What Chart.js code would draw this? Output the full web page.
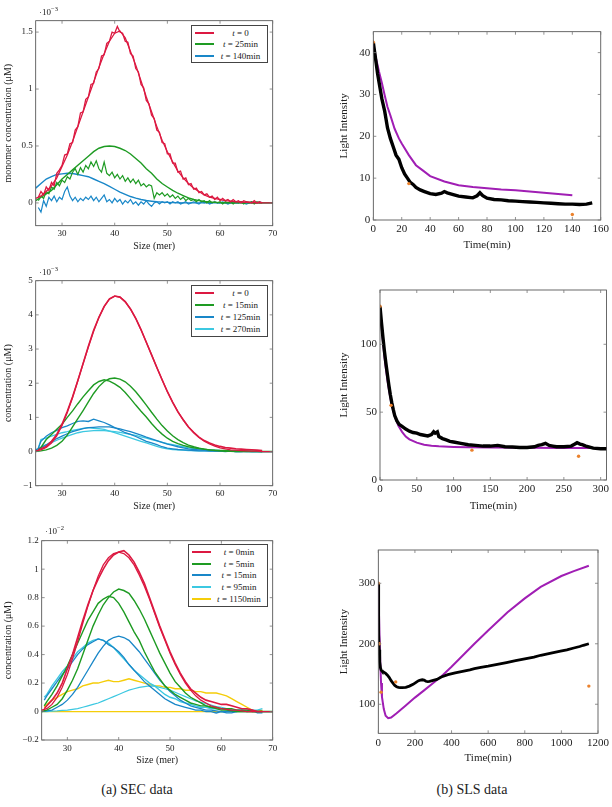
<!DOCTYPE html>
<html>
<head>
<meta charset="utf-8">
<script src="https://cdn.jsdelivr.net/npm/chart.js@4.4.1/dist/chart.umd.min.js"></script>
<style>
  body { margin: 0; background: #fff; font-family: "Liberation Serif", serif; color: #222; }
  #page { position: relative; width: 612px; height: 807px; overflow: hidden; }
  #page canvas { position: absolute; z-index: 1; }
  .exp { position: absolute; font-size: 9px; z-index: 3; }
  .exp sup { font-size: 6.5px; }
  .lg { position: absolute; z-index: 3; background: #fff; border: 1px solid #444; font-size: 9px;
        box-sizing: border-box; display: flex; flex-direction: column; justify-content: space-evenly; }
  .lg div { display: flex; align-items: center; }
  .lg .sw { width: 19px; height: 2px; margin-left: 3px; }
  .lg .tx { flex: 1; text-align: center; white-space: nowrap; }
  .cap { position: absolute; font-size: 14px; width: 200px; text-align: center; }
</style>
</head>
<body>
<div id="page">
  <div class="exp" style="left:39px;top:5px">&middot;10<sup>&minus;3</sup></div>
  <div class="exp" style="left:39px;top:265px">&middot;10<sup>&minus;3</sup></div>
  <div class="exp" style="left:45px;top:524px">&middot;10<sup>&minus;2</sup></div>

  <div class="lg" style="left:191px;top:25px;width:77px;height:38px">
    <div><span class="sw" style="background:rgb(220,25,65)"></span><span class="tx"><i>t</i> = 0</span></div>
    <div><span class="sw" style="background:rgb(30,155,35)"></span><span class="tx"><i>t</i> = 25min</span></div>
    <div><span class="sw" style="background:rgb(25,135,200)"></span><span class="tx"><i>t</i> = 140min</span></div>
  </div>
  <div class="lg" style="left:191px;top:285px;width:77px;height:52px">
    <div><span class="sw" style="background:rgb(220,25,65)"></span><span class="tx"><i>t</i> = 0</span></div>
    <div><span class="sw" style="background:rgb(30,155,35)"></span><span class="tx"><i>t</i> = 15min</span></div>
    <div><span class="sw" style="background:rgb(25,135,200)"></span><span class="tx"><i>t</i> = 125min</span></div>
    <div><span class="sw" style="background:rgb(60,200,225)"></span><span class="tx"><i>t</i> = 270min</span></div>
  </div>
  <div class="lg" style="left:188px;top:544px;width:80px;height:63px">
    <div><span class="sw" style="background:rgb(220,25,65)"></span><span class="tx"><i>t</i> = 0min</span></div>
    <div><span class="sw" style="background:rgb(30,155,35)"></span><span class="tx"><i>t</i> = 5min</span></div>
    <div><span class="sw" style="background:rgb(25,135,200)"></span><span class="tx"><i>t</i> = 15min</span></div>
    <div><span class="sw" style="background:rgb(60,200,225)"></span><span class="tx"><i>t</i> = 95min</span></div>
    <div><span class="sw" style="background:rgb(245,205,10)"></span><span class="tx"><i>t</i> = 1150min</span></div>
  </div>

  <div class="cap" style="left:37px;top:782px">(a) SEC data</div>
  <div class="cap" style="left:372px;top:782px">(b) SLS data</div>
</div>

<script>
// colours
const RED = 'rgb(220,25,65)';
const GREEN = 'rgb(30,155,35)';
const BLUE = 'rgb(25,135,200)';
const CYAN = 'rgb(60,200,225)';
const YELLOW = 'rgb(245,205,10)';
const PURPLE = 'rgb(160,30,180)';
const ORANGE = 'rgb(235,130,45)';
const serif = '"Liberation Serif"';

// ---- SEC data (size in mer) ----
const fitX = [25,26,27,28,29,30,31,32,33,34,35,36,37,38,39,40,41,42,43,44,45,46,47,
  48,49,50,51,52,53,54,55,56,57,58,59,60,61,62,63,64,65,66,67,68,69,70];
const secX = [25.5,26,27,28,29,30,31,32,33,34,35,36,37,38,39,40,41,42,43,44,45,46,47,
  48,49,50,51,52,53,54,55,56,57,58,59,60,61,62,63,64,65,66,67,68];
const sec1X = [25.5,26,26.5,27,27.5,28,28.5,29,29.5,30,
  30.5,31,31.5,32,32.5,33,33.5,34,34.5,35,
  35.5,36,36.5,37,37.5,38,38.5,39,39.5,40,
  40.5,41,41.5,42,42.5,43,43.5,44,44.5,45,
  45.5,46,46.5,47,47.5,48,48.5,49,49.5,50,
  50.5,51,51.5,52,52.5,53,53.5,54,54.5,55,
  55.5,56,56.5,57,57.5,58,58.5,59,59.5,60,
  60.5,61,61.5,62,62.5,63,63.5,64,64.5,65,
  65.5,66,66.5,67,67.5,68];

// top: units of 1e-3
const red1Data = [0.05,0.10,0.07,0.14,0.11,0.18,0.15,0.26,0.29,0.33,
  0.42,0.43,0.52,0.53,0.64,0.67,0.79,0.80,0.91,0.93,
  1.04,1.05,1.15,1.18,1.29,1.30,1.40,1.42,1.50,1.49,
  1.55,1.50,1.49,1.42,1.41,1.31,1.29,1.18,1.15,1.04,
  1.01,0.90,0.87,0.77,0.74,0.64,0.62,0.53,0.52,0.43,
  0.43,0.35,0.35,0.27,0.28,0.21,0.22,0.16,0.17,0.12,
  0.13,0.09,0.10,0.07,0.08,0.05,0.06,0.03,0.05,0.02,
  0.04,0.02,0.03,0.01,0.03,0.01,0.02,0.00,0.02,0.01,
  0.01,0.00,0.02,0.00,0.01,0.00];
const green1Data = [0.02,0.06,0.04,0.10,0.08,0.14,0.12,0.18,0.15,0.20,
  0.18,0.23,0.21,0.27,0.30,0.25,0.31,0.27,0.33,0.30,
  0.36,0.32,0.37,0.30,0.27,0.36,0.26,0.24,0.27,0.22,
  0.25,0.21,0.24,0.19,0.22,0.18,0.21,0.17,0.20,0.15,
  0.17,0.14,0.16,0.15,0.04,0.09,0.07,0.09,0.06,0.08,
  0.05,0.07,0.04,0.06,0.03,0.05,0.02,0.04,0.02,0.03,
  0.01,0.03,0.01,0.02,0.00,0.02,0.00,0.01,0.00,0.01,
  -0.01,0.01,0.00,0.01,-0.01,0.01,0.00,0.01,-0.01,0.01,
  0.00,0.01,-0.01,0.01,0.00,0.00];
const blue1Data = [-0.04,-0.08,0.02,-0.03,0.05,0.02,0.06,0.01,0.05,0.03,
  0.10,0.14,0.06,0.02,0.05,0.01,0.04,0.02,0.05,0.03,
  0.06,0.02,0.05,0.01,0.04,0.07,0.01,0.03,0.00,0.04,
  0.01,0.03,-0.01,0.02,0.00,0.03,-0.01,0.01,-0.02,0.01,
  -0.01,0.02,-0.01,-0.03,0.00,0.01,-0.01,0.01,0.00,0.01,
  -0.01,0.01,0.00,0.01,-0.01,0.00,0.01,-0.01,0.00,0.01,
  0.00,-0.01,0.01,0.00,0.01,-0.01,0.00,0.01,0.00,0.00,
  0.01,0.00,-0.01,0.00,0.01,0.00,0.00,0.01,0.00,-0.01,
  0.00,0.01,0.00,0.00,0.01,0.00];
const red1Fit = [0.04,0.06,0.1,0.15,0.22,0.32,0.42,0.54,0.67,0.8,
  0.93,1.06,1.19,1.31,1.42,1.49,1.51,1.45,1.33,1.21,
  1.07,0.93,0.8,0.67,0.55,0.45,0.36,0.28,0.22,0.17,
  0.13,0.1,0.07,0.05,0.04,0.03,0.02,0.015,0.01,0.008,
  0.005,0.003,0,0,0,0];
const green1Fit = [0.02,0.05,0.08,0.11,0.16,0.21,0.25,0.29,0.33,0.37,
  0.41,0.45,0.48,0.495,0.5,0.495,0.48,0.46,0.43,0.39,
  0.35,0.3,0.26,0.21,0.17,0.14,0.11,0.085,0.065,0.045,
  0.03,0.02,0.013,0.008,0.005,0.003,0,0,0,0,
  0,0,0,0,0,0];
const blue1Fit = [0.13,0.17,0.21,0.23,0.25,0.255,0.26,0.258,0.25,0.24,
  0.23,0.21,0.19,0.17,0.145,0.12,0.095,0.075,0.056,0.042,
  0.03,0.021,0.015,0.01,0.007,0.005,0.003,0.002,0,0,
  0,0,0,0,0,0,0,0,0,0,
  0,0,0,0,0,0];

// middle: units of 1e-3
const red3Data = [0.05,0.08,0.15,0.3,0.5,0.8,1.18,1.6,2.08,2.58,3.08,3.55,3.93,4.25,4.47,
  4.55,4.52,4.38,4.17,3.9,3.57,3.2,2.83,2.46,2.1,1.75,1.44,1.16,0.93,0.72,
  0.56,0.42,0.32,0.25,0.19,0.15,0.12,0.1,0.08,0.07,0.06,0.05,0.04,0.03];
const green3Data = [0.05,0.12,0.35,0.5,0.65,0.8,1.0,1.19,1.4,1.6,1.78,1.95,2.05,2.1,2.06,
  1.98,1.88,1.73,1.55,1.36,1.18,1.01,0.82,0.65,0.51,0.39,0.3,0.23,0.18,0.14,
  0.11,0.09,0.07,0.05,0.04,0.03,0.03,0.02,0.02,0.02,0.01,0.01,0.01,0];
const blue3Data = [0.1,0.3,0.45,0.55,0.62,0.7,0.75,0.82,0.88,0.9,0.88,0.95,0.9,0.85,0.78,
  0.7,0.63,0.55,0.5,0.44,0.37,0.3,0.25,0.2,0.14,0.1,0.08,0.06,0.05,0.04,
  0.03,0.02,0.02,0.01,0.01,0.01,0,0.01,0,0,0.01,0,0,0];
const cyan3Data = [0.1,0.35,0.4,0.45,0.5,0.55,0.58,0.62,0.65,0.68,0.7,0.68,0.67,0.65,0.6,
  0.55,0.5,0.45,0.4,0.35,0.3,0.25,0.2,0.15,0.11,0.08,0.06,0.05,0.04,0.03,
  0.03,0.02,0.02,0.02,0.02,0.02,0.01,0.01,0.01,0.01,0,0,0,0];
const red3Fit = [0.02,0.05,0.12,0.25,0.46,0.76,1.14,1.58,2.07,2.57,
  3.06,3.52,3.92,4.24,4.46,4.55,4.52,4.39,4.17,3.89,
  3.56,3.2,2.83,2.46,2.1,1.76,1.45,1.17,0.93,0.72,
  0.55,0.41,0.3,0.22,0.16,0.11,0.08,0.05,0.04,0.03,
  0.02,0.01,0.01,0,0,0];
const green3Fit = [0,0.02,0.05,0.1,0.18,0.3,0.48,0.72,0.96,1.2,
  1.45,1.7,1.9,2.05,2.13,2.15,2.12,2.04,1.91,1.75,
  1.56,1.36,1.15,0.95,0.76,0.6,0.46,0.35,0.26,0.19,
  0.14,0.1,0.07,0.05,0.03,0.02,0.01,0.01,0,0,
  0,0,0,0,0,0];
const blue3Fit = [0.05,0.12,0.2,0.29,0.38,0.45,0.52,0.58,0.63,0.67,
  0.7,0.71,0.72,0.72,0.72,0.69,0.66,0.62,0.58,0.53,
  0.48,0.42,0.37,0.32,0.27,0.22,0.18,0.14,0.11,0.08,
  0.06,0.05,0.04,0.03,0.02,0.015,0.01,0.01,0,0,
  0,0,0,0,0,0];
const cyan3Fit = [0.05,0.11,0.18,0.26,0.33,0.39,0.45,0.5,0.55,0.58,
  0.6,0.61,0.62,0.61,0.6,0.58,0.56,0.53,0.5,0.47,
  0.43,0.39,0.35,0.31,0.27,0.23,0.2,0.17,0.14,0.11,
  0.09,0.07,0.06,0.05,0.04,0.03,0.025,0.02,0.015,0.01,
  0.01,0.005,0.005,0,0,0];

// bottom: units of 1e-2
const red5Data = [0.02,0.04,0.08,0.13,0.2,0.3,0.4,0.52,0.64,0.75,0.85,0.93,1.0,1.06,1.1,
  1.12,1.13,1.1,1.05,0.98,0.9,0.8,0.7,0.6,0.51,0.42,0.34,0.27,0.21,0.16,
  0.13,0.1,0.08,0.07,0.06,0.05,0.05,0.04,0.03,0.02,0.02,0.01,0,0];
const green5Data = [0.04,0.07,0.12,0.18,0.25,0.32,0.4,0.48,0.56,0.64,0.7,0.76,0.79,0.81,0.8,
  0.76,0.7,0.63,0.56,0.5,0.42,0.35,0.28,0.23,0.18,0.15,0.12,0.1,0.08,0.06,
  0.05,0.04,0.04,0.03,0.03,0.02,0.02,0.02,0.01,0.01,0.01,0,0,0];
const blue5Data = [0.08,0.11,0.16,0.21,0.26,0.3,0.35,0.4,0.44,0.47,0.49,0.51,0.5,0.47,0.45,
  0.42,0.38,0.33,0.29,0.25,0.21,0.18,0.15,0.12,0.09,0.07,0.05,0.04,0.03,0.02,
  0.01,0.01,0,0,-0.01,0,-0.01,-0.01,0,0.01,0,0.01,-0.01,-0.01];
const cyan5Data = [0.1,0.12,0.18,0.23,0.28,0.32,0.37,0.42,0.45,0.48,0.5,0.51,0.5,0.48,0.45,
  0.41,0.37,0.33,0.29,0.26,0.23,0.2,0.18,0.15,0.12,0.1,0.09,0.07,0.06,0.05,
  0.04,0.03,0.03,0.02,0.02,0.02,0.01,0.01,0.01,0.01,0.01,0.01,0.01,0.02];
const yellow5Data = [0.03,0.05,0.08,0.1,0.12,0.14,0.15,0.16,0.18,0.19,0.2,0.2,0.21,0.22,0.21,
  0.21,0.22,0.23,0.22,0.21,0.2,0.19,0.18,0.18,0.17,0.17,0.16,0.16,0.15,0.15,
  0.14,0.14,0.13,0.13,0.13,0.12,0.11,0.09,0.07,0.05,0.03,0.01,0,0.01];
const red5Fit = [0.01,0.02,0.05,0.1,0.17,0.26,0.37,0.49,0.62,0.74,
  0.85,0.95,1.03,1.08,1.11,1.12,1.11,1.08,1.03,0.96,
  0.88,0.79,0.69,0.59,0.5,0.41,0.33,0.26,0.2,0.15,
  0.11,0.08,0.06,0.04,0.03,0.02,0.015,0.01,0.01,0.005,
  0,0,0,0,0,0];
const green5Fit = [0,0.01,0.03,0.05,0.09,0.15,0.22,0.3,0.4,0.5,
  0.6,0.68,0.75,0.8,0.84,0.86,0.85,0.83,0.78,0.72,
  0.65,0.57,0.49,0.41,0.34,0.27,0.21,0.17,0.13,0.1,
  0.08,0.06,0.04,0.03,0.02,0.01,0.01,0.005,0,0,
  0,0,0,0,0,0];
const blue5Fit = [0,0.005,0.01,0.03,0.05,0.08,0.12,0.17,0.23,0.29,
  0.35,0.41,0.46,0.5,0.52,0.53,0.52,0.5,0.46,0.42,
  0.37,0.32,0.27,0.22,0.18,0.14,0.11,0.08,0.06,0.04,
  0.03,0.02,0.01,0.01,0.005,0,0,0,0,0,
  0,0,0,0,0,0];
const cyan5Fit = [0,0,0.003,0.005,0.008,0.01,0.015,0.02,0.03,0.04,
  0.05,0.06,0.075,0.09,0.105,0.12,0.135,0.15,0.16,0.17,
  0.175,0.18,0.178,0.17,0.16,0.15,0.135,0.12,0.105,0.09,
  0.075,0.065,0.055,0.045,0.035,0.03,0.02,0.015,0.01,0.01,
  0.005,0.005,0,0,0,0];
const yellow5FitX = [25, 70];
const yellow5Fit = [0, 0];

// ---- SLS data (time in min) ----
const sls1T = [0,1,2,3,4,5,6,7,8,9,10,12,14,16,18,20,22,24,26,28,30,33,36,40,44,48,
  50,52,55,60,65,70,73,75,77,80,85,90,95,100,105,110,115,120,125,130,135,140,145,150,154];
const sls1I = [42.5,40,37.5,35,33,31,29,27.5,26,24,22,19.5,17.5,15.5,14.5,12.5,11,10,9,8.5,7.8,
  7.2,6.8,6.3,6.1,6.4,6.8,6.5,6.2,5.7,5.5,5.3,5.8,6.5,5.8,5.2,
  4.9,4.8,4.6,4.5,4.4,4.3,4.2,4.1,4.0,3.9,3.8,3.8,3.7,3.8,4.1];
const sls1FitT = [0,2,4,6,8,10,12,15,18,20,25,30,35,40,50,60,70,80,90,100,110,120,130,140];
const sls1FitI = [42,38.5,35.5,32.8,29.8,27,25,21.8,19.5,18.3,15.5,13.1,11.8,10.5,9.2,8.3,7.9,7.6,7.3,7.1,6.8,6.5,6.2,5.9];
const sls1MarkT = [0, 25, 140];
const sls1MarkI = [42.5, 8.7, 1.3];

const sls2T = [0,2,4,6,8,10,12,14,16,18,20,23,26,30,35,40,45,50,55,60,65,70,73,75,78,80,
  85,90,95,100,110,120,130,140,150,160,170,180,190,200,210,215,220,225,230,235,240,
  250,260,265,268,272,275,280,290,300,310];
const sls2I = [128,116,105,95,86,78,70,63,57,52,47.5,43.5,41,39.5,37.5,36,35,34.5,33.5,33,32.5,33.5,
  35.5,34.5,35.5,32,30.5,29.5,28.5,28,27,26,25.5,25,25,25.5,24.5,24.3,24,24,24.5,
  25.5,26,27,25.5,25,24.5,24.5,25,26.5,27.5,26.5,26,25,23.5,23,23];
const sls2FitT = [0,2,4,6,8,10,12,15,18,20,25,30,35,40,50,60,70,80,100,120,150,200,250,310];
const sls2FitI = [128,114,102,91,82,74,67,58,51,47,40,35.5,32,30,27.5,26,25.2,24.8,24.4,24.2,24,23.8,23.6,23.5];
const sls2MarkT = [0, 15, 125, 270];
const sls2MarkI = [128, 55, 22, 17.5];

const sls3T = [0,1,2,3,5,8,12,15,20,30,40,50,60,70,80,90,100,110,120,130,150,170,190,
  200,210,220,230,240,250,260,270,280,300,320,344,380,420,460,500,525,560,600,650,700,
  750,800,850,887,950,995,1030,1068,1100,1120,1150];
const sls3I = [300,270,240,215,190,170,160,157,155,153,151,148,144,139,135,131,129,128,127.5,127.5,
  128,130,133,135,137,139,140,140.5,140,138,137.5,138,139.5,141,145,149,152,154.5,157,159,
  161,163,166,169,172,175,178,181,185,188,190,193,195.5,197.5,200];
const sls3FitT = [0,3,6,10,15,20,30,40,54,70,100,150,200,250,300,344,400,525,600,706,800,887,1000,1068,1150];
const sls3FitI = [300,260,220,175,135,112,92,81,77,78,85,98,111,123,135,146,162,200,222,252,275,294,312,320,329];
const sls3MarkT = [0, 5, 15, 95, 1150];
const sls3MarkI = [300, 200, 120, 137, 130];

// tick labels
const secXTicks = [30, 40, 50, 60, 70];
const sec1YTicks = [0, 0.5, 1, 1.5];
const sec3YTicks = [-1, 0, 1, 2, 3, 4, 5];
const sec5YTicks = [-0.2, 0, 0.2, 0.4, 0.6, 0.8, 1, 1.2];
const sls1XTicks = [0, 20, 40, 60, 80, 100, 120, 140, 160];
const sls1YTicks = [0, 10, 20, 30, 40];
const sls2XTicks = [0, 50, 100, 150, 200, 250, 300];
const sls2YTicks = [0, 50, 100];
const sls3XTicks = [0, 200, 400, 600, 800, 1000, 1200];
const sls3YTicks = [100, 200, 300];

function pts(xs, ys) {
  return xs.map(function (x, i) { return { x: x, y: ys[i] }; });
}
function line(xs, ys, color, width) {
  return { data: pts(xs, ys), borderColor: color, borderWidth: width, pointRadius: 0, tension: 0, fill: false };
}
function marks(xs, ys) {
  return { data: pts(xs, ys), showLine: false, pointRadius: 1.7, pointBorderWidth: 0,
    pointBackgroundColor: ORANGE, borderColor: ORANGE };
}
const fmt = v => String(v).replace('-', '\u2212');

// box around the plot with small inward ticks on every side
const frameTicks = {
  id: 'frameTicks',
  afterDraw(chart) {
    const ctx = chart.ctx, a = chart.chartArea, x = chart.scales.x, y = chart.scales.y;
    ctx.save();
    ctx.strokeStyle = '#444';
    ctx.lineWidth = 0.8;
    ctx.strokeRect(a.left, a.top, a.right - a.left, a.bottom - a.top);
    ctx.strokeStyle = '#777';
    ctx.beginPath();
    x.ticks.forEach(t => {
      const p = x.getPixelForValue(t.value);
      ctx.moveTo(p, a.bottom); ctx.lineTo(p, a.bottom - 3);
      ctx.moveTo(p, a.top); ctx.lineTo(p, a.top + 3);
    });
    y.ticks.forEach(t => {
      const p = y.getPixelForValue(t.value);
      ctx.moveTo(a.left, p); ctx.lineTo(a.left + 3, p);
      ctx.moveTo(a.right, p); ctx.lineTo(a.right - 3, p);
    });
    ctx.stroke();
    ctx.restore();
  }
};

function axis(min, max, ticks, title, size, titleSize, fit, horiz) {
  return {
    type: 'linear', min: min, max: max,
    grid: { display: false, drawTicks: false },
    border: { display: false },
    afterBuildTicks: s => { s.ticks = ticks.map(v => ({ value: v })); },
    afterFit: s => { if (horiz) s.height = fit; else s.width = fit; },
    ticks: { autoSkip: false, maxRotation: 0, padding: 3, color: '#222',
      font: { family: serif, size: size }, callback: fmt },
    title: { display: true, text: title, color: '#222', padding: 2,
      font: { family: serif, size: titleSize } }
  };
}

function makeChart(box, plot, xs, ys, datasets) {
  const cv = document.createElement('canvas');
  cv.width = box.w; cv.height = box.h;
  cv.style.left = box.l + 'px'; cv.style.top = box.t + 'px';
  document.getElementById('page').appendChild(cv);
  new Chart(cv, {
    type: 'line',
    data: { datasets: datasets },
    options: {
      responsive: false, animation: false,
      layout: { padding: { left: 0, bottom: 0, top: plot.t - box.t, right: box.l + box.w - plot.r } },
      scales: {
        x: axis(xs.min, xs.max, xs.ticks, xs.title, xs.size, xs.tsize, box.t + box.h - plot.b, true),
        y: axis(ys.min, ys.max, ys.ticks, ys.title, ys.size, ys.tsize, plot.l - box.l, false)
      },
      plugins: { legend: { display: false }, tooltip: { enabled: false } }
    },
    plugins: [frameTicks]
  });
}

const sizeAxis = { min: 25, max: 70, ticks: secXTicks, title: 'Size (mer)', size: 9, tsize: 10 };

makeChart({ l: 0, t: 0, w: 285, h: 254 }, { l: 35.7, t: 20.7, r: 272.7, b: 225.7 }, sizeAxis,
  { min: -0.2, max: 1.6, ticks: sec1YTicks, title: 'monomer concentration (\u03bcM)', size: 9, tsize: 10 },
  [line(sec1X, red1Data, RED, 1.3), line(fitX, red1Fit, RED, 1.3),
   line(fitX, green1Fit, GREEN, 1.4), line(sec1X, green1Data, GREEN, 1.2),
   line(fitX, blue1Fit, BLUE, 1.4), line(sec1X, blue1Data, BLUE, 1.2)]);

makeChart({ l: 0, t: 260, w: 285, h: 254 }, { l: 35.7, t: 280.7, r: 272.7, b: 485.7 }, sizeAxis,
  { min: -1, max: 5, ticks: sec3YTicks, title: 'concentration (\u03bcM)', size: 9, tsize: 10 },
  [line(secX, red3Data, RED, 1.6), line(fitX, red3Fit, RED, 1.3),
   line(secX, green3Data, GREEN, 1.4), line(fitX, green3Fit, GREEN, 1.4),
   line(secX, blue3Data, BLUE, 1.3), line(fitX, blue3Fit, BLUE, 1.3),
   line(secX, cyan3Data, CYAN, 1.3), line(fitX, cyan3Fit, CYAN, 1.3)]);

makeChart({ l: 0, t: 520, w: 285, h: 248 }, { l: 41.7, t: 540.7, r: 272.7, b: 740 }, sizeAxis,
  { min: -0.2, max: 1.2, ticks: sec5YTicks, title: 'concentration (\u03bcM)', size: 9, tsize: 10 },
  [line(secX, red5Data, RED, 1.6), line(fitX, red5Fit, RED, 1.3),
   line(secX, green5Data, GREEN, 1.4), line(fitX, green5Fit, GREEN, 1.4),
   line(secX, blue5Data, BLUE, 1.3), line(fitX, blue5Fit, BLUE, 1.3),
   line(secX, cyan5Data, CYAN, 1.4), line(fitX, cyan5Fit, CYAN, 1.2),
   line(secX, yellow5Data, YELLOW, 1.4), line(yellow5FitX, yellow5Fit, YELLOW, 1.3)]);

makeChart({ l: 336, t: 0, w: 276, h: 254 }, { l: 373.3, t: 31.7, r: 601.7, b: 220 },
  { min: 0, max: 160, ticks: sls1XTicks, title: 'Time(min)', size: 11, tsize: 11 },
  { min: 0, max: 45, ticks: sls1YTicks, title: 'Light Intensity', size: 11, tsize: 11 },
  [marks(sls1MarkT, sls1MarkI), line(sls1T, sls1I, '#000', 3.4), line(sls1FitT, sls1FitI, PURPLE, 2)]);

makeChart({ l: 336, t: 260, w: 276, h: 255 }, { l: 380, t: 290, r: 609.3, b: 480 },
  { min: 0, max: 308, ticks: sls2XTicks, title: 'Time(min)', size: 11, tsize: 11 },
  { min: 0, max: 140, ticks: sls2YTicks, title: 'Light Intensity', size: 11, tsize: 11 },
  [marks(sls2MarkT, sls2MarkI), line(sls2T, sls2I, '#000', 3.4), line(sls2FitT, sls2FitI, PURPLE, 2)]);

makeChart({ l: 336, t: 520, w: 276, h: 247 }, { l: 378.3, t: 550, r: 599.3, b: 733.3 },
  { min: 0, max: 1200, ticks: sls3XTicks, title: 'Time(min)', size: 11, tsize: 11 },
  { min: 52, max: 355, ticks: sls3YTicks, title: 'Light Intensity', size: 11, tsize: 11 },
  [marks(sls3MarkT, sls3MarkI), line(sls3T, sls3I, '#000', 2.8), line(sls3FitT, sls3FitI, PURPLE, 2)]);
</script>
</body>
</html>
